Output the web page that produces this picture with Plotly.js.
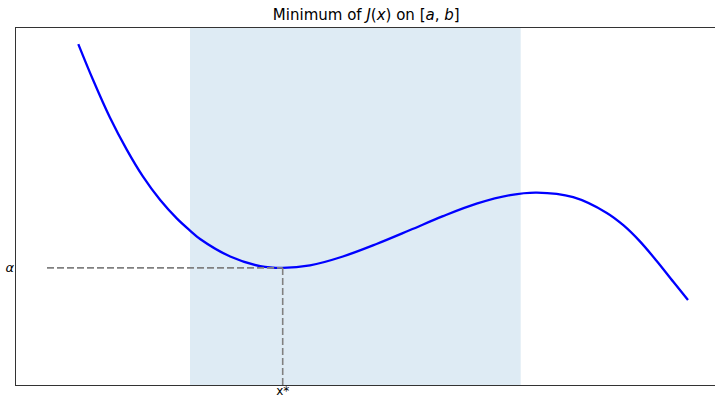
<!DOCTYPE html>
<html>
<head>
<meta charset="utf-8">
<script src="https://cdn.plot.ly/plotly-3.0.1.min.js"></script>
<style>
html,body{margin:0;padding:0;overflow:hidden;background:#fff;}
#chart{width:720px;height:396px;}
</style>
</head>
<body>
<div id="chart"></div>
<script>
// Curve samples
const curveX = [0.89, 1.10, 1.34, 1.58, 1.81, 2.06, 2.30, 2.49, 2.63, 3.06, 3.49, 3.81, 4.20, 4.67, 5.15, 5.63, 6.10, 6.58, 7.06, 7.44, 7.96, 8.44, 8.68, 8.91, 9.15, 9.39, 9.60];
const curveY = [9.55, 8.55, 7.50, 6.60, 5.85, 5.18, 4.66, 4.32, 4.09, 3.60, 3.33, 3.28, 3.35, 3.60, 3.95, 4.34, 4.73, 5.08, 5.32, 5.39, 5.26, 4.82, 4.47, 4.03, 3.48, 2.89, 2.38];
const intervalA = 2.486;
const intervalB = 7.21;
const xStar = 3.81;
const alphaVal = 3.28;
const dashStartX = 0.443;
const xTickLabels = ["x*"];
const yTickLabels = ["<i>α</i>"];

const traces = [
  {x: curveX, y: curveY, mode: 'lines', line: {color: '#0000ff', width: 2.3, shape: 'spline', smoothing: 1.0}, hoverinfo: 'skip'},
  {x: [dashStartX, xStar], y: [alphaVal, alphaVal], mode: 'lines', line: {color: '#808080', width: 1.6, dash: '7px,3px'}, hoverinfo: 'skip'},
  {x: [xStar, xStar], y: [0, alphaVal], mode: 'lines', line: {color: '#808080', width: 1.6, dash: '7px,3px'}, hoverinfo: 'skip'}
];

const layout = {
  width: 720, height: 396,
  margin: {l: 16, r: 4, t: 28, b: 11},
  paper_bgcolor: '#fff', plot_bgcolor: '#fff',
  showlegend: false,
  font: {family: 'DejaVu Sans, sans-serif', color: '#000', size: 12},
  title: {text: 'Minimum of <i>J</i>(<i>x</i>) on [<i>a</i>, <i>b</i>]', x: 0.5087, xref: 'container', xanchor: 'center', y: 1 - 15/396, yref: 'container', yanchor: 'middle', font: {size: 15, family: 'DejaVu Sans, sans-serif', color: '#000'}},
  xaxis: {range: [0, 10], showgrid: false, zeroline: false, showline: true, mirror: true, linecolor: '#333', linewidth: 1.2,
          tickmode: 'array', tickvals: [xStar], ticktext: xTickLabels, ticks: '', ticklen: 0, ticklabelstandoff: -6, tickfont: {size: 12}},
  yaxis: {range: [0, 10], showgrid: false, zeroline: false, showline: true, mirror: true, linecolor: '#333', linewidth: 1.2,
          tickmode: 'array', tickvals: [alphaVal], ticktext: yTickLabels, ticks: '', ticklen: 0, ticklabelstandoff: -2, tickfont: {size: 13}},
  shapes: [
    {type: 'rect', xref: 'x', yref: 'paper', x0: intervalA, x1: intervalB, y0: 0, y1: 1, fillcolor: 'rgba(31,119,180,0.15)', line: {width: 0}, layer: 'below'}
  ]
};

Plotly.newPlot('chart', traces, layout, {displayModeBar: false, staticPlot: true});
</script>
</body>
</html>
